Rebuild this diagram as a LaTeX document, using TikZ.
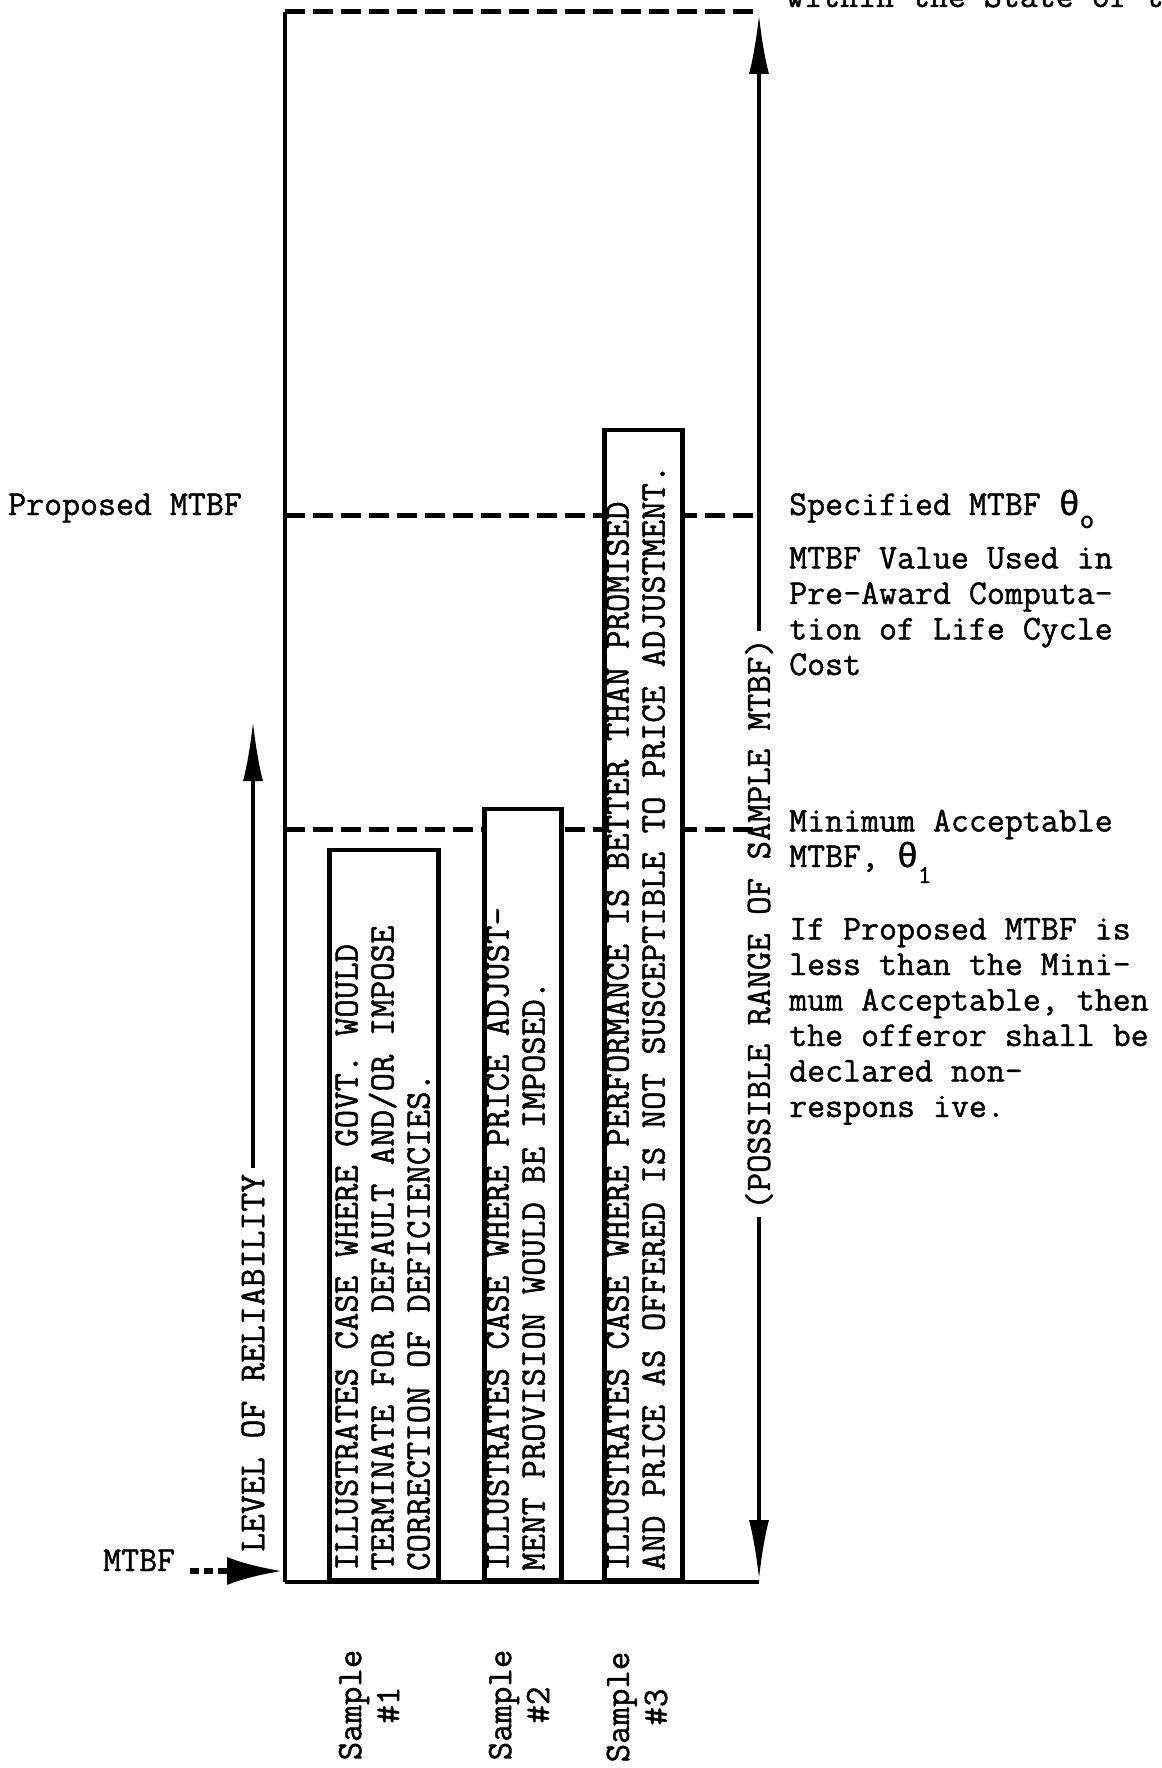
\documentclass[tikz,border=0pt]{standalone}
\usepackage{fontspec}
\newfontfamily\thetafont{Liberation Mono}[FakeBold=1.2]
\newfontfamily\tyfont{Latin Modern Mono}[FakeBold=1.2]
\usetikzlibrary{arrows.meta}
\begin{document}
\begin{tikzpicture}[x=1pt,y=-1pt,
  txt/.style={font=\fontsize{34.9}{35.5}\selectfont\tyfont, inner sep=0pt, align=left, anchor=base west},
  boxtxt/.style={font=\fontsize{35.8}{36}\selectfont\tyfont, inner sep=0pt, align=left, rotate=90, anchor=north west},
  vlab/.style={font=\fontsize{35.8}{38}\selectfont\tyfont, rotate=90, align=center},
  dashline/.style={line width=5pt, dash pattern=on 20pt off 8pt},
  sbox/.style={draw, fill=white, line width=4.5pt, inner sep=0pt, anchor=south west},
  bigarrow/.style={line width=4pt, -{Latex[length=60pt,width=20pt]}}
]
\useasboundingbox (0,0) rectangle (1161,1768);

% frame coordinates
\coordinate (TL) at (285,12);
\coordinate (TR) at (757,12);
\coordinate (BL) at (285,1582);
\coordinate (BR) at (759,1582);
\coordinate (PL) at (285,515);
\coordinate (PR) at (757,515);
\coordinate (ML) at (285,829);
\coordinate (MR) at (757,829);

\draw[line width=3.5pt] (TL) -- (BL);
\draw[dashline] (TL) -- (TR);
\draw[dashline] (PL) -- (PR);
\draw[dashline] (ML) -- (MR);

% sample boxes
\node[sbox, minimum width=109pt, minimum height=730pt] (s1) at (327,1582) {};
\node[sbox, minimum width=77pt, minimum height=771pt] (s2) at (482,1582) {};
\node[sbox, minimum width=78pt, minimum height=1150pt] (s3) at (602,1582) {};

\draw[line width=4.5pt] (BL) -- (BR);

% box texts
\node[boxtxt] (t1) at (335,1571) {ILLUSTRATES CASE WHERE GOVT. WOULD\\TERMINATE FOR DEFAULT AND/OR IMPOSE\\CORRECTION OF DEFICIENCIES.};
\node[boxtxt] (t2) at (486,1571) {ILLUSTRATES CASE WHERE PRICE ADJUST-\\MENT PROVISION WOULD BE IMPOSED.};
\node[boxtxt] (t3) at (606,1571) {ILLUSTRATES CASE WHERE PERFORMANCE IS BETTER THAN PROMISED\\AND PRICE AS OFFERED IS NOT SUSCEPTIBLE TO PRICE ADJUSTMENT.};

% sample labels
\node[vlab, inner sep=0pt] (l1) at (369,1705) {Sample\\\#1};
\node[vlab, inner sep=0pt] (l2) at (519,1705) {Sample\\\#2};
\node[vlab, inner sep=0pt] (l3) at (637,1707) {Sample\\\#3};

% level of reliability
\node[vlab, font=\fontsize{36.7}{38}\selectfont\tyfont, anchor=west, inner sep=6pt] (lvl) at (253,1558) {LEVEL OF RELIABILITY};
\coordinate (lvltip) at (255,721);
\draw[bigarrow] (lvl.east) -- (lvl.east |- lvltip);

% possible range
\node[vlab, inner sep=7pt] (rng) at (759,924) {(POSSIBLE RANGE OF SAMPLE MTBF)};
\coordinate (rtop) at (759,14);
\coordinate (rbot) at (759,1580);
\draw[bigarrow] (rng.east) -- (rng.east |- rtop);
\draw[bigarrow] (rng.west) -- (rng.west |- rbot);

% MTBF pointer
\node[txt] (mtbf) at (103,1571) {MTBF};
\coordinate (mt1) at (190,1571);
\coordinate (mt2) at (283,1571);
\draw[line width=6pt, dash pattern=on 9pt off 5pt, -{Latex[length=56pt,width=28pt]}] (mt1) -- (mt2);

% left label
\node[txt] (prop) at (8,515) {Proposed MTBF};

% right labels
\node[txt] (topt) at (786,7) {within the State of t};
\node[txt] (spec) at (789,515) {Specified MTBF {\thetafont θ}\raisebox{-13pt}{\fontsize{28}{28}\selectfont o}};
\node[txt] (val) at (789,675) {MTBF Value Used in\\Pre-Award Computa-\\tion of Life Cycle\\Cost};
\node[txt] (mina) at (789,867) {Minimum Acceptable\\MTBF, {\thetafont θ}\raisebox{-16pt}{\fontsize{26}{26}\selectfont 1}};
\node[txt] (ifp) at (789,1117) {If Proposed MTBF is\\less than the Mini-\\mum Acceptable, then\\the offeror shall be\\declared non-\\respons ive.};
\end{tikzpicture}
\end{document}
